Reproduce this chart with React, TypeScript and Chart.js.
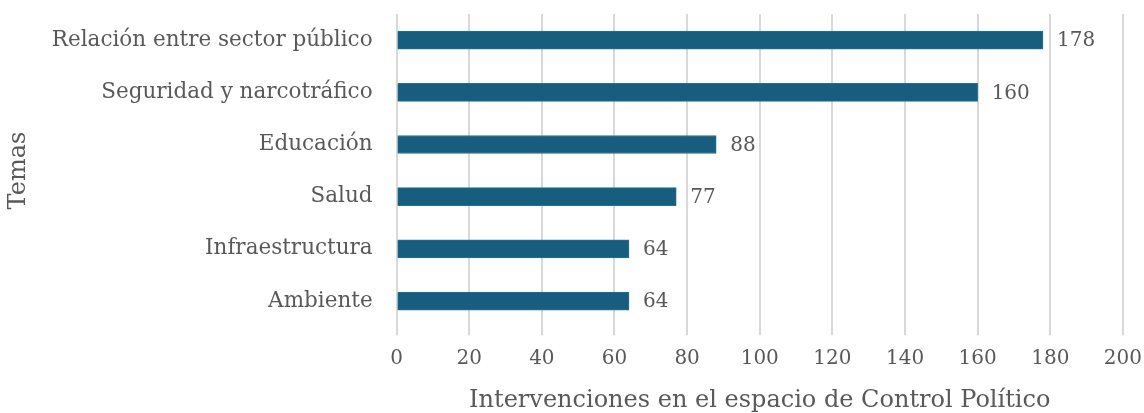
import React, { useEffect, useRef } from "react";
import { Chart, registerables } from "chart.js";

Chart.register(...registerables);

const categories = [
  "Relación entre sector público",
  "Seguridad y narcotráfico",
  "Educación",
  "Salud",
  "Infraestructura",
  "Ambiente",
];
const values = [178, 160, 88, 77, 64, 64];
const xTitle = "Intervenciones en el espacio de Control Político";
const yTitle = "Temas";

const FONT = "'DejaVu Serif', serif";
const TEXT = "#595959";

const valueLabels = {
  id: "valueLabels",
  afterDatasetsDraw(chart: any) {
    const ctx = chart.ctx;
    const meta = chart.getDatasetMeta(0);
    ctx.save();
    ctx.font = `20px ${FONT}`;
    ctx.fillStyle = TEXT;
    ctx.textAlign = "left";
    ctx.textBaseline = "middle";
    meta.data.forEach((el: any, i: number) => {
      ctx.fillText(String(values[i]), el.x + 14, el.y + 1);
    });
    ctx.restore();
  },
};

export default function App() {
  const ref = useRef<HTMLCanvasElement>(null);
  useEffect(() => {
    document.body.style.margin = "0";
    const chart = new Chart(ref.current!, {
      type: "bar",
      data: {
        labels: categories,
        datasets: [
          {
            data: values,
            backgroundColor: "#175e7e",
            borderColor: "#2a7095",
            borderWidth: 1,
            barThickness: 18,
          },
        ],
      },
      options: {
        indexAxis: "y",
        responsive: false,
        animation: false,
        layout: { padding: { left: 4, right: 0, top: 14, bottom: 0 } },
        plugins: { legend: { display: false }, tooltip: { enabled: false } },
        scales: {
          x: {
            min: 0,
            max: 200,
            ticks: { stepSize: 20, color: TEXT, font: { family: FONT, size: 20 }, padding: 12 },
            grid: { color: "#d9d9d9", lineWidth: 2, tickLength: 8, drawTicks: true },
            border: { display: false },
            title: { display: true, text: xTitle, color: TEXT, font: { family: FONT, size: 24 }, padding: { top: 6, bottom: -2 } },
            afterFit: (s: any) => {
              s.height -= 3;
              s.paddingRight = Math.max(0, s.paddingRight - 10);
            },
          },
          y: {
            ticks: { color: TEXT, font: { family: FONT, size: 21.5 }, padding: 16 },
            grid: { display: false },
            border: { display: false },
            title: { display: true, text: yTitle, color: TEXT, font: { family: FONT, size: 24 }, padding: { top: 0, bottom: 3 } },
            afterFit: (s: any) => {
              s.paddingTop = 0;
              s.paddingBottom = 0;
            },
          },
        },
      },
      plugins: [valueLabels],
    });
    return () => chart.destroy();
  }, []);
  return (
    <div style={{ width: 1144, height: 413 }}>
      <canvas ref={ref} width={1144} height={413} />
    </div>
  );
}
